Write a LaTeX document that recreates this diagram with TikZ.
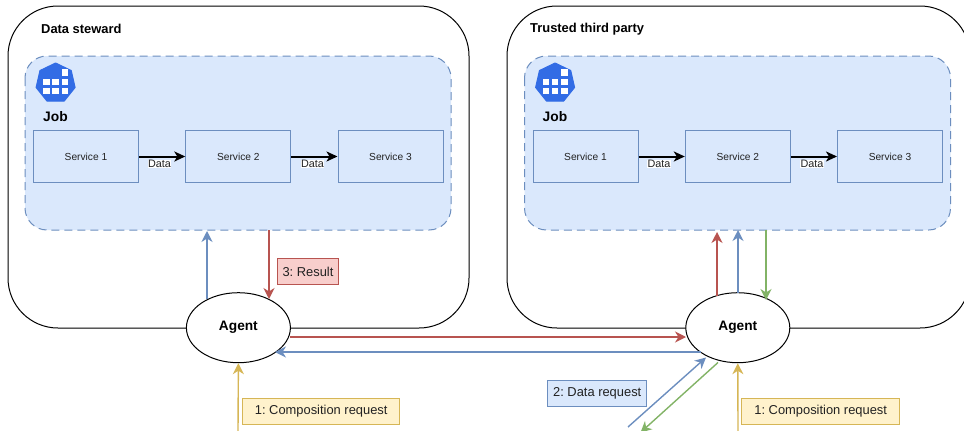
\documentclass[tikz,border=0pt]{standalone}
\usepackage{fontspec}
\setmainfont{Liberation Sans}
\usetikzlibrary{arrows.meta,shapes.geometric}
\definecolor{bluefill}{HTML}{DAE8FC}
\definecolor{bluel}{HTML}{6C8EBF}
\definecolor{redfill}{HTML}{F8CECC}
\definecolor{redl}{HTML}{B85450}
\definecolor{yelfill}{HTML}{FFF2CC}
\definecolor{yell}{HTML}{D6B656}
\definecolor{greenl}{HTML}{82B366}
\definecolor{kube}{HTML}{326CE5}
\definecolor{ink}{HTML}{222222}
\frenchspacing
\tikzset{
  outerbox/.style={draw=black,line width=1pt,rounded corners=50pt,fill=white},
  jobbox/.style={draw=bluel,fill=bluefill,line width=1pt,dash pattern=on 8pt off 5pt,rounded corners=22pt},
  svc/.style={draw=bluel,fill=bluefill,line width=1pt,minimum width=105pt,minimum height=52pt,inner sep=0pt,font=\fontsize{10.2}{12}\selectfont,text=ink},
  agentnode/.style={ellipse,draw=black,fill=white,line width=1pt,minimum width=104pt,minimum height=70pt,inner sep=0pt,font=\bfseries\fontsize{13.7}{16}\selectfont},
  title/.style={anchor=west,inner sep=0pt,font=\bfseries\fontsize{12.9}{15}\selectfont},
  jobtitle/.style={anchor=west,inner sep=0pt,font=\bfseries\fontsize{13.8}{16}\selectfont},
  datalab/.style={fill=white,inner sep=0.5pt,font=\fontsize{10.8}{12}\selectfont,text=ink},
  dataarrow/.style={line width=2pt,-{Stealth[length=11pt,width=10pt,inset=3pt]}},
  conn/.style={line width=1.4pt,-{Stealth[length=11pt,width=11pt,inset=3.5pt]}},
  tag/.style={line width=1pt,inner sep=0pt,minimum height=26pt,font=\fontsize{12.9}{15}\selectfont,text=ink},
  cell/.style={fill=white,draw=none,inner sep=0pt,minimum size=6.3pt},
  icon/.style={regular polygon,regular polygon sides=7,fill=kube,draw=kube,line join=round,line width=1pt,minimum size=40pt,inner sep=0pt},
}
\newcommand{\jobgroup}[4]{%
  \begin{scope}[shift={(#2,0)}]
    \node[title] (title#1) at (#3) {#4};
    \path[jobbox] (25,56) rectangle (451,230);
    \node[icon] (icon#1) at (55.6,83) {};
    \foreach \cx/\cy in {65/72.5, 46.5/82, 55.5/82, 65/82, 46.5/91, 55.5/91, 65/91}
      \node[cell] at (\cx,\cy) {};
    \node[jobtitle] (job#1) at (43,116.5) {Job};
    \node[svc] (sa#1) at (86,156.5) {Service 1};
    \node[svc] (sb#1) at (238.3,156.5) {Service 2};
    \node[svc] (sc#1) at (390.5,156.5) {Service 3};
    \draw[dataarrow] (sa#1) -- (sb#1);
    \draw[dataarrow] (sb#1) -- (sc#1);
    \node[datalab] (da#1) at (159.5,164) {Data};
    \node[datalab] (db#1) at (312.5,164) {Data};
  \end{scope}}
\begin{document}
\begin{tikzpicture}[x=1pt,y=-1pt]
\useasboundingbox (0,0) rectangle (964,431);
\clip (0,0) rectangle (964,431);
\path[outerbox] (8,6) rectangle (469,328);
\path[outerbox] (507,6) rectangle (970,328);
\jobgroup{L}{0}{41,29}{Data steward}
\jobgroup{R}{499.5}{30.5,29}{Trusted third party}
\node[agentnode] (agL) at (238.4,327.7) {Agent};
\node[agentnode] (agR) at (737.8,327.7) {Agent};
% coordinates
\coordinate (lbS) at (207,298.5);
\coordinate (lbE) at (207,231);
\coordinate (lrS) at (269,230);
\coordinate (lrE) at (269,299);
\coordinate (lyS) at (238,431);
\coordinate (hrS) at (290,337);
\coordinate (hrE) at (686,337);
\coordinate (hbS) at (701,352);
\coordinate (hbE) at (275,352);
\coordinate (rrS) at (717,296);
\coordinate (rrE) at (717,232);
\coordinate (rbS) at (738,293);
\coordinate (rbE) at (738,230);
\coordinate (rgS) at (766,230);
\coordinate (rgE) at (766,300);
\coordinate (ryS) at (738,431);
\coordinate (dbS) at (628,427);
\coordinate (dbE) at (706,357.5);
\coordinate (dgS) at (718,362.5);
\coordinate (dgE) at (640.5,432.5);
\draw[conn,bluel] (lbS) -- (lbE);
\draw[conn,redl] (lrS) -- (lrE);
\draw[conn,yell] (lyS) -- (agL.south);
\draw[conn,redl] (hrS) -- (hrE);
\draw[conn,bluel] (hbS) -- (hbE);
\draw[conn,redl] (rrS) -- (rrE);
\draw[conn,bluel] (rbS) -- (rbE);
\draw[conn,greenl] (rgS) -- (rgE);
\draw[conn,yell] (ryS) -- (agR.south);
\draw[conn,bluel] (dbS) -- (dbE);
\draw[conn,greenl] (dgS) -- (dgE);
\node[tag,draw=redl,fill=redfill,minimum width=61pt] (res) at (308,271.5) {3: Result};
\node[tag,draw=yell,fill=yelfill,minimum width=157.5pt] (crL) at (321.2,411) {1: Composition request};
\node[tag,draw=yell,fill=yelfill,minimum width=157.5pt] (crR) at (820.7,411) {1: Composition request};
\node[tag,draw=bluel,fill=bluefill,minimum width=99.5pt] (dr) at (597.2,393) {2: Data request};
\end{tikzpicture}
\end{document}
